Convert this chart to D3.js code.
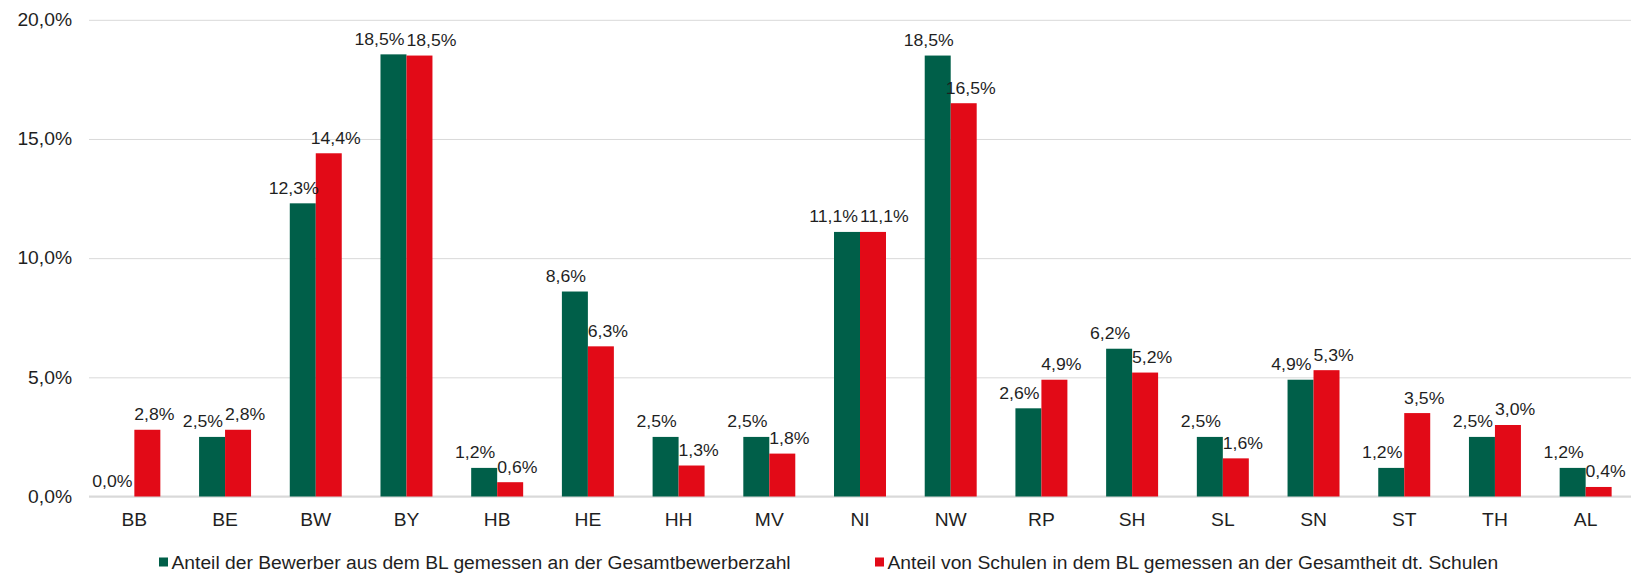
<!DOCTYPE html>
<html>
<head>
<meta charset="utf-8">
<script src="https://cdn.jsdelivr.net/npm/d3@7"></script>
<style>
  html, body { margin: 0; padding: 0; background: #ffffff; }
  svg { display: block; }
  text { font-family: "Liberation Sans", Arial, sans-serif; fill: #1f1f1f; }
</style>
</head>
<body>
<svg id="chart" width="1638" height="581"></svg>
<script>
// ---- data ----
const categories = ["BB","BE","BW","BY","HB","HE","HH","MV","NI","NW","RP","SH","SL","SN","ST","TH","AL"];
// bar heights as drawn (percent)
const bewerberValues = [0.0, 2.5, 12.3, 18.55, 1.2, 8.6, 2.5, 2.5, 11.1, 18.5, 3.7, 6.2, 2.5, 4.9, 1.2, 2.5, 1.2];
// values printed on the labels (percent)
const bewerberLabelValues = [0.0, 2.5, 12.3, 18.5, 1.2, 8.6, 2.5, 2.5, 11.1, 18.5, 2.6, 6.2, 2.5, 4.9, 1.2, 2.5, 1.2];
const schulenValues = [2.8, 2.8, 14.4, 18.5, 0.6, 6.3, 1.3, 1.8, 11.1, 16.5, 4.9, 5.2, 1.6, 5.3, 3.5, 3.0, 0.4];
const seriesNames = [
  "Anteil der Bewerber aus dem BL gemessen an der Gesamtbewerberzahl",
  "Anteil von Schulen in dem BL gemessen an der Gesamtheit dt. Schulen"
];
const seriesColors = ["#005f49", "#e20a17"];
const yTicks = [0, 5, 10, 15, 20];

// ---- setup ----
const svg = d3.select("#chart");
const de = d3.formatLocale({decimal: ",", thousands: ".", grouping: [3], currency: ["", " €"]});
const pct = v => de.format(".1f")(v) + "%";

// slightly widen glyphs to match the reference's wider lettering
function stretch(sel, k) {
  sel.each(function() {
    const l = this.getComputedTextLength();
    this.setAttribute("textLength", l * k);
    this.setAttribute("lengthAdjust", "spacingAndGlyphs");
  });
}
const K = 1.07;

const plotLeft = 89, plotRight = 1631, plotTop = 19.8, plotBottom = 496.5;

const y = d3.scaleLinear().domain([0, 20]).range([plotBottom, plotTop]);
const x0 = d3.scaleBand().domain(categories).range([plotLeft, plotRight])
  .paddingInner(0.427).paddingOuter(0.2135);
const x1 = d3.scaleBand().domain([0, 1]).range([0, x0.bandwidth()]);

// gridlines + y labels
const yAxis = svg.append("g").attr("transform", `translate(${plotLeft},0)`)
  .call(d3.axisLeft(y).tickValues(yTicks).tickSize(-(plotRight - plotLeft)).tickPadding(17).tickFormat(pct));
yAxis.select(".domain").remove();
yAxis.selectAll(".tick line").attr("stroke", "#d9d9d9").attr("stroke-width", 1);
yAxis.selectAll(".tick text").attr("font-size", 18).attr("fill", "#1f1f1f")
  .style("font-family", '"Liberation Sans", Arial, sans-serif');
stretch(yAxis.selectAll(".tick text"), K);

// baseline
svg.append("line").attr("x1", plotLeft).attr("x2", plotRight)
  .attr("y1", y(0)).attr("y2", y(0)).attr("stroke", "#d9d9d9").attr("stroke-width", 2);

// rows
const rows = categories.map((c, i) => ({
  cat: c,
  vals: [
    {s: 0, v: bewerberValues[i], lab: bewerberLabelValues[i]},
    {s: 1, v: schulenValues[i], lab: schulenValues[i]}
  ]
}));

const groups = svg.append("g").selectAll("g").data(rows).join("g")
  .attr("transform", d => `translate(${x0(d.cat)},0)`);

groups.selectAll("rect").data(d => d.vals).join("rect")
  .attr("x", d => x1(d.s))
  .attr("width", x1.bandwidth())
  .attr("y", d => y(d.v))
  .attr("height", d => y(0) - y(d.v))
  .attr("fill", d => seriesColors[d.s]);

// value labels
const labelShift = [-9, 7];
const labelSize = 16.5;
const labelLayer = svg.append("g");
rows.forEach(r => {
  const nodes = r.vals.map(d => {
    const cx = x0(r.cat) + x1(d.s) + x1.bandwidth() / 2 + labelShift[d.s];
    const t = labelLayer.append("text")
      .attr("x", cx).attr("y", y(d.v) - 9.5)
      .attr("text-anchor", "middle")
      .attr("font-size", labelSize)
      .text(pct(d.lab));
    const w = t.node().getComputedTextLength() * K;
    stretch(t, K);
    return {t, cx, y: y(d.v) - 9.5, w};
  });
  const [g, rr] = nodes;
  if (Math.abs(g.y - rr.y) < labelSize * 0.9) {
    const need = (g.w + rr.w) / 2 + 2;
    const cur = rr.cx - g.cx;
    if (cur < need) {
      const push = (need - cur) / 2;
      g.t.attr("x", g.cx - push);
      rr.t.attr("x", rr.cx + push);
    }
  }
});

// category axis
const xAxis = svg.append("g").attr("transform", `translate(0,${plotBottom})`)
  .call(d3.axisBottom(x0).tickSize(0).tickPadding(16.5));
xAxis.select(".domain").remove();
xAxis.selectAll(".tick text").attr("font-size", 18).attr("fill", "#1f1f1f")
  .style("font-family", '"Liberation Sans", Arial, sans-serif');
stretch(xAxis.selectAll(".tick text"), K);

// legend
const legendX = [159, 875];
const legend = svg.append("g").selectAll("g").data(seriesNames).join("g")
  .attr("transform", (d, i) => `translate(${legendX[i]},562)`);
legend.append("rect").attr("x", 0).attr("y", -4.5).attr("width", 9).attr("height", 9)
  .attr("fill", (d, i) => seriesColors[i]);
const legendText = legend.append("text").attr("x", 12.5).attr("y", 6.5).attr("font-size", 18).text(d => d);
stretch(legendText, K);
</script>
</body>
</html>
